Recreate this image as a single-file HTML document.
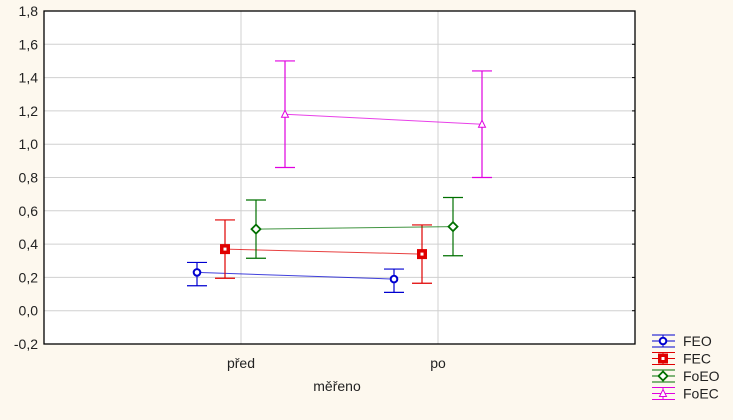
<!DOCTYPE html>
<html><head><meta charset="utf-8"><style>
body{margin:0;background:#fdf8ee;}
svg{display:block;font-family:"Liberation Sans",sans-serif;}
</style></head><body>
<svg id="c" width="733" height="420"></svg>
<script>
const categories=["před","po"];
const seriesNames=["FEO","FEC","FoEO","FoEC"];
const means=[[0.23,0.19],[0.37,0.34],[0.49,0.505],[1.18,1.12]];
const lower=[[0.15,0.11],[0.195,0.165],[0.315,0.33],[0.86,0.80]];
const upper=[[0.29,0.25],[0.545,0.515],[0.665,0.68],[1.50,1.44]];
const yTicks=[-0.2,0,0.2,0.4,0.6,0.8,1.0,1.2,1.4,1.6,1.8];
const colors=["#0000d0","#e00000","#007000","#e000e0"];
const L=44,R=635,T=11,B=344;
const y=v=>B-(v+0.2)/2*(B-T);
const catX=[241,438];
const offs=[-44,-16,15,44];
const svg=document.getElementById('c');
const NS='http://www.w3.org/2000/svg';
function mk(t,a,p){const e=document.createElementNS(NS,t);for(const k in a)e.setAttribute(k,a[k]);(p||svg).appendChild(e);return e;}
let e=mk('rect',{x:L,y:T,width:R-L,height:B-T,fill:'#fff'});


yTicks.forEach(v=>{
 let g=mk('line',{x1:L,x2:R,y1:y(v),y2:y(v),stroke:'#d0d0d0'});
 
 
 let t=mk('text',{x:L-6,y:y(v)+5,'text-anchor':'end','font-size':14,fill:'#222'});
 t.textContent=v.toFixed(1).replace('.',',');
 
 
 mk('line',{x1:R-3,x2:R,y1:y(v),y2:y(v),stroke:'#000'});
});
categories.forEach((c,i)=>{
 let g=mk('line',{x1:catX[i],x2:catX[i],y1:T,y2:B,stroke:'#d0d0d0'});
 
 
 let t=mk('text',{x:catX[i],y:368,'text-anchor':'middle','font-size':14,fill:'#222'});
 t.textContent=c;
 
 
});
e=mk('rect',{x:L,y:T,width:R-L,height:B-T,fill:'none',stroke:'#000','stroke-width':1.3});


e=mk('text',{x:337,y:391,'text-anchor':'middle','font-size':14,fill:'#222'});
e.textContent='měřeno';


function marker(s,cx,cy,col){
 if(s===0)return mk('circle',{cx,cy,r:3.3,fill:'#fff',stroke:col,'stroke-width':2});
 if(s===1){const g=mk('g',{});mk('rect',{x:cx-4.5,y:cy-4.5,width:9,height:9,fill:col,stroke:col},g);mk('rect',{x:cx-1.5,y:cy-1.5,width:3,height:3,fill:'#fff'},g);return g;}
 if(s===2)return mk('path',{d:`M${cx} ${cy-4.5}L${cx+4.5} ${cy}L${cx} ${cy+4.5}L${cx-4.5} ${cy}Z`,fill:'#fff',stroke:col,'stroke-width':1.8});
 return mk('path',{d:`M${cx} ${cy-4}L${cx+3.5} ${cy+3}L${cx-3.5} ${cy+3}Z`,fill:'#fff',stroke:col,'stroke-width':1});
}
seriesNames.forEach((n,s)=>{
 const col=colors[s];
 const xs=catX.map(x=>x+offs[s]);
 let ln=mk('line',{x1:xs[0],y1:y(means[s][0]),x2:xs[1],y2:y(means[s][1]),stroke:col,'stroke-width':1,'stroke-opacity':0.75});
 
 
 xs.forEach((x,i)=>{
  const eb=mk('path',{d:`M${x} ${y(lower[s][i])}V${y(upper[s][i])}M${x-10} ${y(lower[s][i])}H${x+10}M${x-10} ${y(upper[s][i])}H${x+10}`,stroke:col,fill:'none','stroke-width':1.2});
  
  
  const m=marker(s,x,y(means[s][i]),col);
  
  
 });
 const ly=341+s*17.5;
 const lg=mk('g',{});
 
 
 mk('path',{d:`M652 ${ly-6}H675M652 ${ly}H675M652 ${ly+6}H675M663 ${ly-6}V${ly+6}`,stroke:col,'stroke-width':1},lg);
 marker(s,663,ly,col);
 const t=mk('text',{x:683,y:ly+5,'font-size':14,fill:'#222'},lg);
 t.textContent=n;
});
</script>
</body></html>
